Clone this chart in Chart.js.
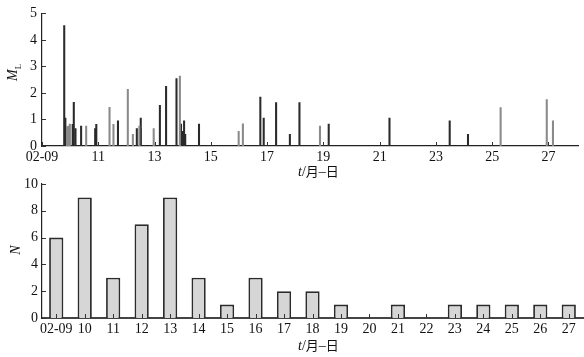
<!DOCTYPE html>
<html>
<head>
<meta charset="utf-8">
<script src="https://cdn.jsdelivr.net/npm/chart.js@4"></script>
<style>
  html, body { margin: 0; padding: 0; background: #fff; }
  #wrap { position: relative; width: 584px; height: 357px; overflow: hidden; font-family: "Liberation Serif", serif; color: #111; }
  canvas { position: absolute; left: 0; }
  .lbl { position: absolute; font-size: 14px; white-space: nowrap; line-height: 1; }
  .cjk { font-family: "Noto Sans CJK SC", sans-serif; font-size: 13px; }
</style>
</head>
<body>
<div id="wrap">
  <canvas id="magChart" width="584" height="178" style="top:0"></canvas>
  <canvas id="countChart" width="584" height="187" style="top:170px"></canvas>
  <div class="lbl" style="left:6px;top:64px;transform:rotate(-90deg);transform-origin:center;"><i>M</i><sub style="font-size:9px">L</sub></div>
  <div class="lbl" style="left:11px;top:243px;transform:rotate(-90deg);"><i>N</i></div>
  <div class="lbl" style="left:298px;top:164px;"><i>t</i>/<span class="cjk">月</span>–<span class="cjk">日</span></div>
  <div class="lbl" style="left:298px;top:338px;"><i>t</i>/<span class="cjk">月</span>–<span class="cjk">日</span></div>
</div>
<script>
// events: time in days of February, magnitude, shade (k = dark, g = grey)
const eventTime = [9.79, 9.83, 9.89, 9.94, 9.99, 10.09, 10.13, 10.19, 10.39, 10.57, 10.89, 10.93,
  11.40, 11.54, 11.70, 12.05, 12.23, 12.37, 12.46, 12.50, 12.51, 12.97, 13.19, 13.41, 13.78, 13.90,
  13.94, 14.01, 14.05, 14.09, 14.58, 15.99, 16.14, 16.76, 16.88, 17.32, 17.81, 18.15, 18.88, 19.19,
  21.35, 23.49, 24.14, 25.30, 26.94, 27.16];
const eventMag = [4.54, 1.05, 0.73, 0.75, 0.83, 0.82, 1.65, 0.66, 0.75, 0.75, 0.66, 0.82,
  1.46, 0.82, 0.95, 2.14, 0.44, 0.66, 0.75, 0.66, 1.05, 0.66, 1.53, 2.25, 2.54, 2.64,
  0.83, 0.55, 0.95, 0.44, 0.83, 0.55, 0.84, 1.84, 1.05, 1.64, 0.44, 1.64, 0.75, 0.83,
  1.05, 0.95, 0.44, 1.45, 1.75, 0.95];
const eventShade = ["k", "k", "g", "g", "g", "k", "k", "k", "k", "g", "k", "k",
  "g", "g", "k", "g", "g", "k", "g", "k", "k", "g", "k", "k", "k", "g",
  "k", "k", "k", "k", "k", "g", "g", "k", "k", "k", "k", "k", "g", "k",
  "k", "k", "k", "g", "g", "g"];
const magTicks = [9, 11, 13, 15, 17, 19, 21, 23, 25, 27];

const days = ["02-09", "10", "11", "12", "13", "14", "15", "16", "17", "18",
  "19", "20", "21", "22", "23", "24", "25", "26", "27"];
const dailyCount = [6, 9, 3, 7, 9, 3, 1, 3, 2, 2, 1, 0, 1, 0, 1, 1, 1, 1, 1];

const tickFont = { family: "'Liberation Serif'", size: 14 };

function pick(shade) {
  const pts = [];
  eventTime.forEach((t, i) => {
    if (eventShade[i] === shade) pts.push({ x: t, y: eventMag[i] });
  });
  return pts;
}

// small tick marks pointing into the plot, like the printed figure
const inwardTicks = {
  id: "inwardTicks",
  afterDatasetsDraw(chart) {
    const { ctx, chartArea, scales } = chart;
    ctx.save();
    ctx.strokeStyle = "#333";
    ctx.lineWidth = 1;
    ctx.beginPath();
    scales.x.ticks.forEach((t, i) => {
      const px = Math.round(scales.x.getPixelForTick(i)) + 0.5;
      ctx.moveTo(px, chartArea.bottom);
      ctx.lineTo(px, chartArea.bottom - 4);
    });
    scales.y.ticks.forEach((t, i) => {
      const py = Math.round(scales.y.getPixelForTick(i)) + 0.5;
      ctx.moveTo(chartArea.left, py);
      ctx.lineTo(chartArea.left + 4, py);
    });
    ctx.stroke();
    ctx.restore();
  }
};

new Chart(document.getElementById("magChart"), {
  type: "bar",
  data: {
    datasets: [
      { data: pick("g"), backgroundColor: "#8a8a8a", barThickness: 1.4, grouped: false },
      { data: pick("k"), backgroundColor: "#2a2a2a", barThickness: 1.4, grouped: false }
    ]
  },
  options: {
    responsive: false,
    animation: false,
    layout: { padding: { top: 9, right: 6, left: 0, bottom: 0 } },
    plugins: { legend: { display: false }, tooltip: { enabled: false } },
    scales: {
      x: {
        type: "linear",
        min: 9,
        max: 28.05,
        offset: false,
        grid: { display: false, drawTicks: false, offset: false },
        border: { color: "#222", width: 1.2 },
        afterBuildTicks: (scale) => { scale.ticks = magTicks.map(v => ({ value: v })); },
        afterFit: (scale) => { scale.height = 32; },
        ticks: {
          font: tickFont, color: "#111", padding: 3, maxRotation: 0, autoSkip: false,
          callback: (v) => (v === 9 ? "02-09" : String(v))
        }
      },
      y: {
        min: 0,
        max: 5,
        grid: { display: false, drawTicks: false },
        border: { color: "#222", width: 1.2 },
        afterFit: (scale) => { scale.width = 42; },
        ticks: { stepSize: 1, font: tickFont, color: "#111", padding: 5 }
      }
    }
  },
  plugins: [inwardTicks]
});

new Chart(document.getElementById("countChart"), {
  type: "bar",
  data: {
    labels: days,
    datasets: [{
      data: dailyCount,
      backgroundColor: "#d6d6d6",
      borderColor: "#2b2b2b",
      borderWidth: 1.8,
      borderSkipped: "bottom",
      barPercentage: 0.5,
      categoryPercentage: 1
    }]
  },
  options: {
    responsive: false,
    animation: false,
    layout: { padding: { top: 14, right: 1, left: 0, bottom: 0 } },
    plugins: { legend: { display: false }, tooltip: { enabled: false } },
    scales: {
      x: {
        grid: { display: false, drawTicks: false },
        border: { color: "#444", width: 2 },
        afterFit: (scale) => { scale.height = 39; },
        ticks: { font: tickFont, color: "#111", padding: 3, maxRotation: 0, autoSkip: false }
      },
      y: {
        min: 0,
        max: 10,
        grid: { display: false, drawTicks: false },
        border: { color: "#222", width: 1.2 },
        afterFit: (scale) => { scale.width = 42; },
        ticks: { stepSize: 2, font: tickFont, color: "#111", padding: 4 }
      }
    }
  },
  plugins: [inwardTicks]
});
</script>
</body>
</html>
